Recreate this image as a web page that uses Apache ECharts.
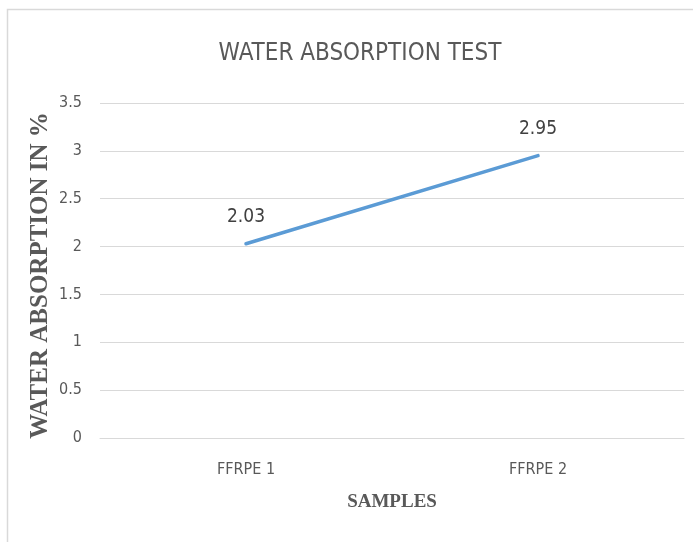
<!DOCTYPE html>
<html>
<head>
<meta charset="utf-8">
<script src="https://cdn.jsdelivr.net/npm/echarts@6/dist/echarts.min.js"></script>
<style>
html,body{margin:0;padding:0;background:#fff;}
#chart{width:693px;height:542px;}
</style>
</head>
<body>
<div id="chart"></div>
<script>
var categories = ['FFRPE 1', 'FFRPE 2'];
var absorption = [2.03, 2.95];
var yTicks = [0, 0.5, 1, 1.5, 2, 2.5, 3, 3.5];

var chart = echarts.init(document.getElementById('chart'));
var narrow = "'Liberation Sans Narrow', 'DejaVu Sans Condensed', 'Roboto Condensed', sans-serif";
var serif = "'Liberation Serif', 'DejaVu Serif', serif";

chart.setOption({
  backgroundColor: '#ffffff',
  animation: false,
  graphic: [{
    type: 'rect',
    shape: {x: 7.5, y: 9.5, width: 720, height: 600},
    style: {fill: 'none', stroke: '#d9d9d9', lineWidth: 1.5},
    silent: true
  }],
  title: {
    text: 'WATER ABSORPTION TEST',
    left: 355,
    textAlign: 'center',
    top: 37,
    textStyle: {fontFamily: narrow, fontSize: 24, fontWeight: 'normal', color: '#595959'}
  },
  grid: {left: 100, right: 9, top: 103, bottom: 104, containLabel: false},
  xAxis: {
    type: 'category',
    data: categories,
    boundaryGap: true,
    name: 'SAMPLES',
    nameLocation: 'middle',
    nameGap: 55,
    nameTextStyle: {fontFamily: serif, fontWeight: 'bold', fontSize: 19, color: '#595959'},
    axisLine: {show: true, lineStyle: {color: '#d9d9d9', width: 1}},
    axisTick: {show: false},
    axisLabel: {fontFamily: narrow, fontSize: 16, color: '#595959', margin: 24}
  },
  yAxis: {
    type: 'value',
    min: yTicks[0],
    max: yTicks[yTicks.length - 1],
    interval: yTicks[1] - yTicks[0],
    name: 'WATER ABSORPTION IN %',
    nameLocation: 'middle',
    nameGap: 47,
    nameMoveOverlap: false,
    nameTextStyle: {fontFamily: serif, fontWeight: 'bold', fontSize: 25, color: '#595959', padding: [0, 10, 0, 0]},
    axisLine: {show: false},
    axisTick: {show: false},
    splitLine: {lineStyle: {color: '#d9d9d9', width: 1}},
    axisLabel: {fontFamily: narrow, fontSize: 16, color: '#595959', margin: 18}
  },
  series: [{
    type: 'line',
    data: absorption,
    symbol: 'circle',
    symbolSize: 0.01,
    showSymbol: true,
    lineStyle: {color: '#5b9bd5', width: 3.5, cap: 'round'},
    itemStyle: {color: '#5b9bd5'},
    label: {
      show: true,
      position: 'top',
      distance: 17,
      fontFamily: narrow,
      fontSize: 19,
      color: '#404040'
    }
  }]
});
</script>
</body>
</html>
